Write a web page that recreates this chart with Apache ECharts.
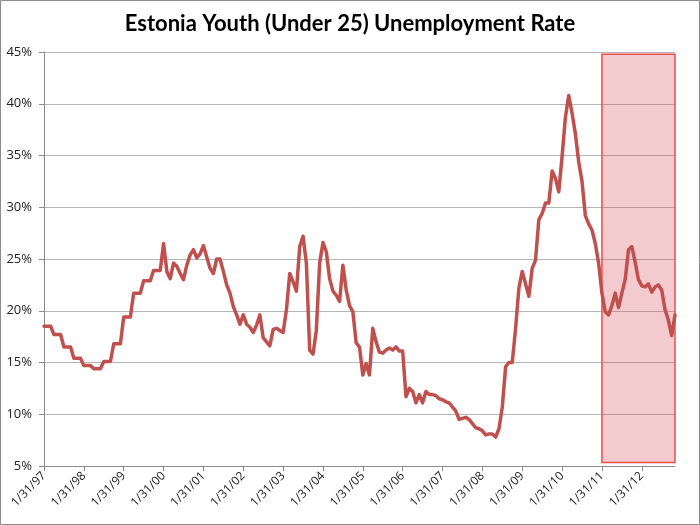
<!DOCTYPE html>
<html>
<head>
<meta charset="utf-8">
<script src="https://cdn.jsdelivr.net/npm/echarts@6/dist/echarts.min.js"></script>
<style>
html,body{margin:0;padding:0;background:#fff;}
#c{width:700px;height:525px;}
</style>
</head>
<body>
<div id="c"></div>
<script>
// Year suffixes for the monthly series (Jan 1997 .. Nov 2012)
var years = ['97','98','99','00','01','02','03','04','05','06','07','08','09','10','11','12'];
var monthEnds = [31,28,31,30,31,30,31,31,30,31,30,31];
var lastMonthCount = 11; // 2012 runs Jan..Nov

// Youth (under 25) unemployment rate, %, monthly
var rate = [
  18.5,18.5,18.5, 17.7,17.7,17.7, 16.5,16.5,16.5, 15.4,15.4,15.4,
  14.7,14.7,14.7, 14.4,14.4,14.4, 15.1,15.1,15.1, 16.8,16.8,16.8,
  19.4,19.4,19.4, 21.7,21.7,21.7, 22.9,22.9,22.9, 23.9,23.9,23.9,
  26.5,23.8,23.1,24.6,24.3,23.6,23.0,24.4,25.4,25.9,25.1,25.5,
  26.3,25.2,24.1,23.6,25.0,25.0,23.8,22.5,21.7,20.4,19.6,18.7,
  19.6,18.7,18.4,17.9,18.6,19.6,17.4,17.0,16.6,18.2,18.3,18.1,
  17.9,20.1,23.6,22.8,21.9,26.2,27.2,24.6,16.2,15.8,18.1,24.6,
  26.6,25.7,23.1,21.9,21.5,20.9,24.4,22.0,20.5,19.9,16.9,16.5,
  13.8,14.9,13.8,18.3,17.0,16.0,15.9,16.2,16.4,16.2,16.5,16.1,
  16.1,11.7,12.5,12.2,11.1,11.9,11.1,12.2,11.9,11.9,11.8,11.5,
  11.4,11.2,11.1,10.7,10.3,9.5,9.6,9.7,9.5,9.1,8.7,8.6,
  8.4,8.0,8.1,8.1,7.8,8.6,10.7,14.6,15.0,15.0,18.3,22.2,
  23.8,22.6,21.4,24.1,24.9,28.8,29.4,30.4,30.4,33.5,32.8,31.5,
  34.9,38.7,40.8,39.1,37.1,34.4,32.5,29.2,28.4,27.8,26.5,24.6,
  21.7,19.9,19.6,20.5,21.7,20.3,21.7,23.0,25.9,26.2,24.7,23.0,
  22.4,22.3,22.6,21.8,22.3,22.5,22.0,20.1,19.1,17.6,19.6
];

// Highlighted period (month index on the category axis, % on value axis)
var highlightX = [167.7, 191.6];
var highlightY = [44.78, 5.33];

var yTicks = {min: 5, max: 45, interval: 5};

// Build category labels (month-end dates)
var categories = [];
years.forEach(function (yy, yi) {
  var n = (yi === years.length - 1) ? lastMonthCount : 12;
  for (var m = 0; m < n; m++) {
    var d = monthEnds[m];
    if (m === 1 && (parseInt(yy, 10) % 4 === 0)) d = 29;
    categories.push((m + 1) + '/' + d + '/' + yy);
  }
});

var chart = echarts.init(document.getElementById('c'), null, {renderer: 'canvas'});
var font = '"Open Sans", "Liberation Sans", sans-serif';

chart.setOption({
  animation: false,
  backgroundColor: '#ffffff',
  title: {
    text: 'Estonia Youth (Under 25) Unemployment Rate',
    left: 'center',
    top: 8,
    textStyle: {fontFamily: 'Lato, "Open Sans", sans-serif', fontWeight: 'bold', fontSize: 22, color: '#000'}
  },
  graphic: [{
    type: 'rect', silent: true, z: 100,
    shape: {x: 0.5, y: 0.5, width: 699, height: 524},
    style: {fill: null, stroke: '#8c8c8c', lineWidth: 1}
  }],
  grid: {left: 44, right: 25, top: 52, bottom: 59, containLabel: false},
  xAxis: {
    type: 'category',
    data: categories,
    boundaryGap: false,
    axisLine: {lineStyle: {color: '#8c8c8c', width: 1}},
    axisTick: {show: true, interval: 11, length: 5, lineStyle: {color: '#8c8c8c'}},
    axisLabel: {interval: 11, rotate: 45, margin: 8, fontFamily: font, fontSize: 12, color: '#222'},
    splitLine: {show: false}
  },
  yAxis: {
    type: 'value',
    min: yTicks.min, max: yTicks.max, interval: yTicks.interval,
    axisLine: {show: true, lineStyle: {color: '#8c8c8c', width: 1}},
    axisTick: {show: true, length: 5, lineStyle: {color: '#8c8c8c'}},
    axisLabel: {formatter: '{value}%', margin: 12, fontFamily: font, fontSize: 13, color: '#222'},
    splitLine: {lineStyle: {color: '#b5b5b5', width: 1}}
  },
  series: [{
    type: 'line',
    data: rate,
    showSymbol: false,
    symbol: 'none',
    clip: false,
    lineStyle: {color: '#c0504d', width: 3.5, join: 'round', cap: 'round'},
    z: 5,
    markArea: {
      silent: true,
      z: 1,
      itemStyle: {color: 'rgba(215, 80, 88, 0.30)', borderColor: '#e8504c', borderWidth: 1.5},
      data: [[
        {coord: [highlightX[0], highlightY[0]]},
        {coord: [highlightX[1], highlightY[1]]}
      ]]
    }
  }]
});
</script>
</body>
</html>
